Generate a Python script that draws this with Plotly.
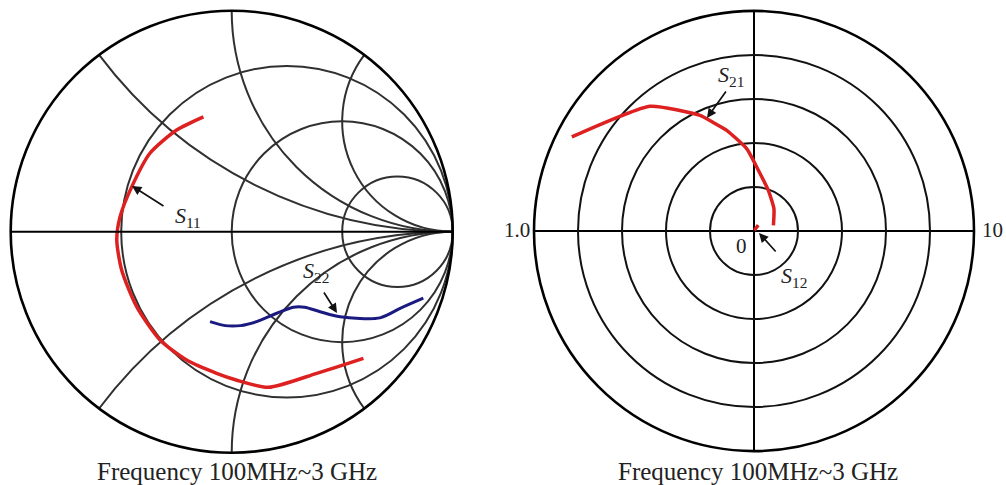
import numpy as np
import plotly.graph_objects as go

W, H = 1006, 485

# ---------------- data ----------------
# Reflection coefficients on the Smith chart (real, imag parts of Gamma)
s11_re = [-0.128, -0.249, -0.370, -0.452, -0.505, -0.520, -0.498, -0.430, -0.324, -0.204, -0.068, 0.020, 0.166, 0.385, 0.596]
s11_im = [0.520, 0.460, 0.355, 0.204, 0.068, -0.038, -0.173, -0.339, -0.490, -0.581, -0.641, -0.671, -0.704, -0.641, -0.573]

s22_re = [-0.098, -0.030, 0.040, 0.113, 0.204, 0.279, 0.330, 0.400, 0.490, 0.671, 0.762, 0.867]
s22_im = [-0.407, -0.425, -0.425, -0.407, -0.369, -0.342, -0.342, -0.362, -0.385, -0.390, -0.347, -0.301]

# Polar plot: magnitude (fraction of outer ring) and angle in degrees
s21_mag = [0.932, 0.738, 0.580, 0.520, 0.474, 0.376, 0.277, 0.196, 0.136, 0.092]
s21_ang = [152.7, 129.8, 115.0, 110.0, 105.2, 95.1, 85.9, 70.6, 48.2, 16.4]

s12_mag = [0.004, 0.018, 0.033]
s12_ang = [60.0, 56.0, 54.0]

# grid values
smith_r_grid = [1 / 3, 1, 3]
smith_x_grid = [-2, -1, -0.5, 0.5, 1, 2]
polar_rings = [0.2, 0.4, 0.6, 0.8]

caption = "Frequency 100MHz~3 GHz"


def to_z(re, im):
    g = np.array(re) + 1j * np.array(im)
    z = (1 + g) / (1 - g)
    return z.real, z.imag


RED = "#dd2020"
NAVY = "#1a1a80"
FONT = "Liberation Serif"

fig = go.Figure()

z11r, z11i = to_z(s11_re, s11_im)
z22r, z22i = to_z(s22_re, s22_im)
fig.add_trace(go.Scattersmith(real=z11r, imag=z11i, mode="lines",
                              line=dict(color=RED, width=3.5, shape="spline", smoothing=0.7),
                              subplot="smith", showlegend=False))
fig.add_trace(go.Scattersmith(real=z22r, imag=z22i, mode="lines",
                              line=dict(color=NAVY, width=3, shape="spline", smoothing=0.8),
                              subplot="smith", showlegend=False))

fig.add_trace(go.Scatterpolar(r=s21_mag, theta=s21_ang, mode="lines",
                              line=dict(color=RED, width=3.5, shape="spline", smoothing=0.5),
                              subplot="polar", showlegend=False))
fig.add_trace(go.Scatterpolar(r=s12_mag, theta=s12_ang, mode="lines",
                              line=dict(color=RED, width=3.5), subplot="polar", showlegend=False))


def px(x, y):
    return x / W, 1 - y / H


# Smith chart box: centre (231.7, 231.7), radius 221
sx0, sy0 = px(10.7, 452.7)
sx1, sy1 = px(452.7, 10.7)
# Polar box: centre (754, 231), radius 220
px0, py0 = px(534, 451)
px1, py1 = px(974, 11)

grid_col = "#303030"
fig.update_layout(
    width=W, height=H,
    margin=dict(l=0, r=0, t=0, b=0),
    paper_bgcolor="white",
    plot_bgcolor="white",
    smith=dict(
        domain=dict(x=[sx0, sx1], y=[sy0, sy1]),
        bgcolor="white",
        realaxis=dict(tickvals=smith_r_grid, showticklabels=False, ticks="",
                      gridcolor=grid_col, gridwidth=1.7,
                      showline=True, linecolor="black", linewidth=2),
        imaginaryaxis=dict(tickvals=smith_x_grid, showticklabels=False, ticks="",
                           gridcolor=grid_col, gridwidth=1.7,
                           showline=True, linecolor="black", linewidth=2.6),
    ),
    polar=dict(
        domain=dict(x=[px0, px1], y=[py0, py1]),
        bgcolor="white",
        radialaxis=dict(range=[0, 1], tickvals=polar_rings, showticklabels=False, ticks="",
                        showline=False, gridcolor="#111", gridwidth=1.7),
        angularaxis=dict(tickvals=[0, 90, 180, 270], showticklabels=False, ticks="",
                         direction="counterclockwise", rotation=0,
                         showline=True, linecolor="black", linewidth=2.6,
                         gridcolor="black", gridwidth=2),
    ),
)

anns = []


def label(text, cx, cy, size):
    X, Y = px(cx, cy)
    anns.append(dict(x=X, y=Y, xref="paper", yref="paper", showarrow=False,
                     xanchor="center", yanchor="middle", text=text,
                     font=dict(family=FONT, size=size, color="#222")))


def arrow(sub, tx, ty, hx, hy, lx, ly, size=22):
    # arrow from tail (tx,ty) to head (hx,hy); label centred at (lx,ly)
    x, y = px(hx, hy)
    anns.append(dict(x=x, y=y, xref="paper", yref="paper", ax=tx - hx, ay=ty - hy,
                     axref="pixel", ayref="pixel",
                     text="", showarrow=True, arrowhead=2, arrowsize=1.1, arrowwidth=1.7, arrowcolor="#111"))
    label(f"<i>S</i><sub>{sub}</sub>", lx, ly, size)


arrow("11", 165, 207, 132, 186, 188, 217)
arrow("22", 323, 291, 337, 313, 316, 272)
arrow("21", 727, 90, 707, 118, 731, 76)
arrow("12", 777, 253, 759, 233, 794, 277)

for cx in (237, 758):
    label(caption, cx, 471, 25)

for txt, cx, cy in (("1.0", 517, 230), ("10", 992, 230), ("0", 741, 246)):
    label(txt, cx, cy, 21)

fig.update_layout(annotations=anns)
# remove the default 8px page margin so the figure fills the window exactly
fig.write_html("out.html", config={"displayModeBar": False},
               post_script="document.body.style.margin='0px';")
